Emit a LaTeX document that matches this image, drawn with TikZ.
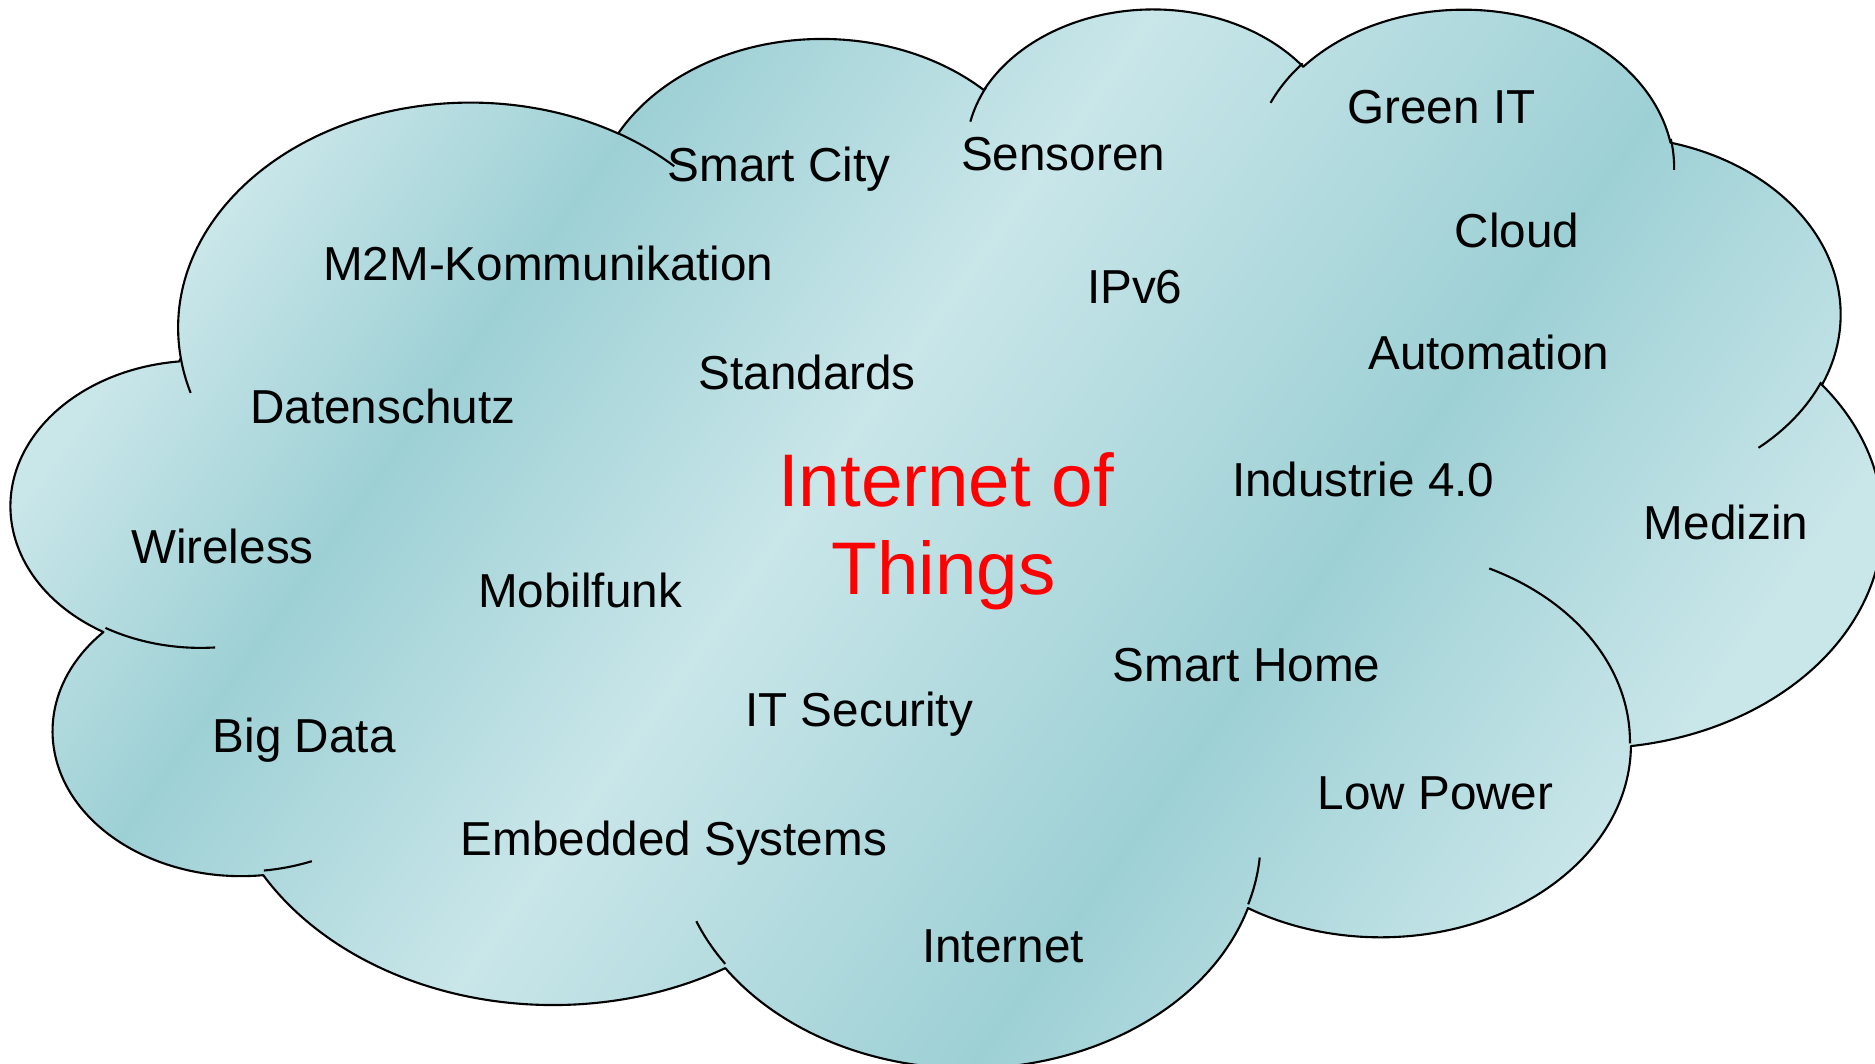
\documentclass[tikz,border=0pt]{standalone}
\usepackage{fontspec}
\setmainfont{Liberation Sans}
\definecolor{cloudlight}{HTML}{C9E6E9}
\definecolor{clouddark}{HTML}{9DD0D5}
\definecolor{titlered}{HTML}{FF0000}
\pgfdeclarehorizontalshading{cloudbands}{100bp}{color(0bp)=(cloudlight); color(30.96bp)=(cloudlight); color(37.83bp)=(clouddark); color(46.86bp)=(cloudlight); color(58.46bp)=(clouddark); color(68.03bp)=(cloudlight); color(100bp)=(cloudlight)}
% #1 name, #2 wR, #3 hR, #4 start angle (visual, deg), #5 swing (deg)
\newcommand\mkcloudarc[5]{%
  \pgfmathsetmacro\ArcTs{atan2((#2)*sin(#4),(#3)*cos(#4))}%
  \pgfmathsetmacro\ArcTe{atan2((#2)*sin((#4)+(#5)),(#3)*cos((#4)+(#5)))}%
  \pgfmathsetmacro\ArcTd{mod((\ArcTe)-(\ArcTs)+720,360)}%
  \pgfmathsetmacro\ArcRx{(#2)/100}%
  \pgfmathsetmacro\ArcRy{(#3)/100}%
  \expandafter\xdef\csname cloudarc#1\endcsname{arc[start angle=\ArcTs, delta angle=\ArcTd, x radius=\ArcRx, y radius=\ArcRy]}%
}
\mkcloudarc{A}{6753}{9190}{-190.48748}{123.78053}
\mkcloudarc{B}{5333}{7267}{-144.10238}{89.94523}
\mkcloudarc{C}{4365}{5945}{-145.80792}{99.72302}
\mkcloudarc{D}{4857}{6595}{-130.98607}{117.24173}
\mkcloudarc{E}{5333}{7273}{-78.70888}{109.02692}
\mkcloudarc{F}{6775}{9220}{-46.26725}{130.269}
\mkcloudarc{G}{5785}{7867}{0.62502}{114.03333}
\mkcloudarc{H}{6752}{9215}{22.4516}{115.17255}
\mkcloudarc{I}{7720}{10543}{66.24263}{75.71102}
\mkcloudarc{J}{4360}{5918}{-274.94208}{146.73557}
\mkcloudarc{K}{4345}{5945}{-246.8285}{152.51885}
\mkcloudarc{a}{4345}{5945}{86.742}{26.4295}
\mkcloudarc{b}{4360}{5918}{73.61047}{11.44747}
\mkcloudarc{c}{6752}{9215}{137.62415}{14.0811}
\mkcloudarc{d}{6752}{9215}{6.45327}{15.99835}
\mkcloudarc{e}{5785}{7867}{-70.29235}{70.91737}
\mkcloudarc{f}{5333}{7273}{30.31803}{27.7515}
\mkcloudarc{g}{4857}{6595}{-13.74433}{14.8589}
\mkcloudarc{h}{4857}{6595}{-149.18145}{18.19537}
\mkcloudarc{i}{4365}{5945}{-163.49427}{17.68635}
\mkcloudarc{j}{6753}{9190}{-66.70695}{12.31935}
\mkcloudarc{k}{6753}{9190}{157.65435}{11.85817}
\def\cloudpath{(39,143.7) \cloudarcA \cloudarcB \cloudarcC \cloudarcD \cloudarcE \cloudarcF \cloudarcG \cloudarcH \cloudarcI \cloudarcJ \cloudarcK -- cycle}
\tikzset{
  cloudunits/.style={shift={(12,6)}, x=0.043260cm, y=-0.024492cm},
  cloudline/.style={draw=black, line width=0.6pt, line join=round},
  lbl/.style={font=\fontsize{13.55pt}{16pt}\selectfont, text=black, anchor=base, inner sep=0pt},
  ttl/.style={font=\fontsize{21.2pt}{25pt}\selectfont, text=titlered, anchor=base, inner sep=0pt}
}
\begin{document}
\begin{tikzpicture}[x=0.01cm, y=-0.01cm]
\useasboundingbox (0,0) rectangle (1875,1064);
\begin{scope}
  \clip[cloudunits] \cloudpath;
  \shade[shading=cloudbands, shading angle=-35.6] (-62.5,-468) rectangle (1937.5,1532);
\end{scope}
\draw[cloudline, cloudunits] \cloudpath;
\draw[cloudline, cloudunits] (46.93,261.77) \cloudarca;
\draw[cloudline, cloudunits] (69.28,348.99) \cloudarcb;
\draw[cloudline, cloudunits] (164.78,390.90) \cloudarcc;
\draw[cloudline, cloudunits] (288.27,347.51) \cloudarcd;
\draw[cloudline, cloudunits] (341.29,229.54) \cloudarce;
\draw[cloudline, cloudunits] (417.98,153.54) \cloudarcf;
\draw[cloudline, cloudunits] (383.24,54.26) \cloudarcg;
\draw[cloudline, cloudunits] (290.78,39.52) \cloudarch;
\draw[cloudline, cloudunits] (221.41,47.20) \cloudarci;
\draw[cloudline, cloudunits] (140.00,51.92) \cloudarcj;
\draw[cloudline, cloudunits] (41.27,157.89) \cloudarck;
\node[lbl] (smartcity) at (779.1,181.8) {Smart City};
\node[lbl] (sensoren) at (1063.1,170.5) {Sensoren};
\node[lbl] (greenit) at (1441.5,124) {Green IT};
\node[lbl] (m2m) at (548.3,281) {M2M-Kommunikation};
\node[lbl] (cloud) at (1516.9,247.5) {Cloud};
\node[lbl] (ipv6) at (1134.8,303.7) {IPv6};
\node[lbl] (standards) at (807.2,389.8) {Standards};
\node[lbl] (automation) at (1488.8,369.5) {Automation};
\node[lbl] (datenschutz) at (382.7,423.3) {Datenschutz};
\node[lbl] (industrie) at (1363.2,496.3) {Industrie 4.0};
\node[lbl] (medizin) at (1726,540) {Medizin};
\node[ttl] (title1) at (946,507) {Internet of};
\node[ttl] (title2) at (943.5,594.5) {Things};
\node[lbl] (wireless) at (222.4,563.2) {Wireless};
\node[lbl] (mobilfunk) at (580,607.5) {Mobilfunk};
\node[lbl] (smarthome) at (1246.6,681.6) {Smart Home};
\node[lbl] (itsec) at (859.2,726.5) {IT Security};
\node[lbl] (bigdata) at (304.3,752) {Big Data};
\node[lbl] (lowpower) at (1435.5,810) {Low Power};
\node[lbl] (embedded) at (673.8,855) {Embedded Systems};
\node[lbl] (internet) at (1003,962) {Internet};
\end{tikzpicture}
\end{document}
